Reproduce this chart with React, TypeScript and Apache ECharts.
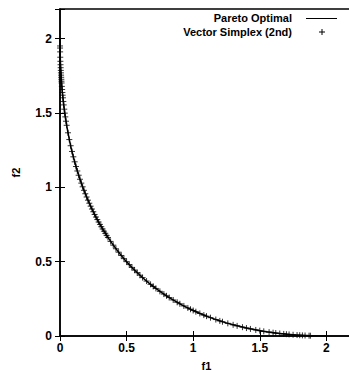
import React, { useEffect, useRef } from "react";
import * as echarts from "echarts";

// Pareto-optimal front (f1, f2)
const paretoF1 = [0, 0.0005, 0.002, 0.005, 0.01, 0.02, 0.04, 0.07, 0.1, 0.15, 0.2, 0.25, 0.3, 0.4, 0.5, 0.6, 0.7, 0.8, 0.9, 1.0, 1.1, 1.2, 1.3, 1.4, 1.5, 1.6, 1.7, 1.8, 1.9, 2.0];
const paretoF2 = [2.0, 1.9373, 1.8755, 1.805, 1.7272, 1.62, 1.4743, 1.3217, 1.2056, 1.0545, 0.9351, 0.8358, 0.7508, 0.6111, 0.5, 0.4091, 0.3336, 0.2702, 0.2167, 0.1716, 0.1335, 0.1016, 0.0751, 0.0534, 0.0359, 0.0223, 0.0122, 0.0053, 0.0013, 0];

// Solutions found by Vector Simplex (2nd)
const simplexF1 = [0.0003, 0.0005, 0.001, 0.002, 0.003, 0.004, 0.005, 0.006, 0.007, 0.008, 0.009, 0.01, 0.011, 0.012, 0.014, 0.016, 0.018, 0.02, 0.022, 0.025, 0.028, 0.032, 0.036, 0.04, 0.045, 0.05, 0.06, 0.07, 0.08, 0.09, 0.1, 0.11, 0.12, 0.13, 0.14, 0.15, 0.16, 0.17, 0.18, 0.19, 0.2, 0.21, 0.22, 0.23, 0.24, 0.25, 0.26, 0.27, 0.28, 0.29, 0.3, 0.31, 0.32, 0.33, 0.34, 0.35, 0.36, 0.38, 0.4, 0.42, 0.44, 0.46, 0.48, 0.5, 0.52, 0.54, 0.56, 0.58, 0.6, 0.62, 0.65, 0.68, 0.7, 0.72, 0.75, 0.78, 0.8, 0.82, 0.85, 0.88, 0.9, 0.93, 0.96, 0.98, 1.0, 1.02, 1.05, 1.08, 1.1, 1.13, 1.17, 1.2, 1.22, 1.26, 1.3, 1.33, 1.37, 1.4, 1.43, 1.47, 1.5, 1.53, 1.57, 1.6, 1.62, 1.65, 1.68, 1.7, 1.72, 1.75, 1.78, 1.8, 1.82, 1.84, 1.87, 1.88];
const simplexF2 = [1.9513, 1.9373, 1.9116, 1.8755, 1.8481, 1.8251, 1.805, 1.7869, 1.7703, 1.755, 1.7407, 1.7272, 1.7143, 1.7022, 1.6793, 1.6582, 1.6385, 1.62, 1.6025, 1.5778, 1.5547, 1.526, 1.4993, 1.4743, 1.445, 1.4175, 1.3672, 1.3217, 1.28, 1.2415, 1.2056, 1.1719, 1.1402, 1.1102, 1.0817, 1.0545, 1.0286, 1.0038, 0.98, 0.9571, 0.9351, 0.9138, 0.8934, 0.8735, 0.8543, 0.8358, 0.8178, 0.8003, 0.7833, 0.7668, 0.7508, 0.7352, 0.72, 0.7052, 0.6907, 0.6767, 0.6629, 0.6364, 0.6111, 0.587, 0.5638, 0.5417, 0.5204, 0.5, 0.4804, 0.4615, 0.4434, 0.4259, 0.4091, 0.3929, 0.3696, 0.3476, 0.3336, 0.32, 0.3005, 0.282, 0.2702, 0.2587, 0.2423, 0.2267, 0.2167, 0.2024, 0.1887, 0.18, 0.1716, 0.1634, 0.1517, 0.1406, 0.1335, 0.1233, 0.1106, 0.1016, 0.0959, 0.0851, 0.0751, 0.0681, 0.0594, 0.0534, 0.0477, 0.0407, 0.0359, 0.0314, 0.026, 0.0223, 0.02, 0.0168, 0.0139, 0.0122, 0.0106, 0.0083, 0.0064, 0.0053, 0.0042, 0.0033, 0.0022, 0.0019];

const xTicks = [0, 0.5, 1, 1.5, 2];
const yTicks = [0, 0.5, 1, 1.5, 2];
const legendNames = ["Pareto Optimal", "Vector Simplex (2nd)"];

const PLUS = "path://M0,5 L10,5 M5,0 L5,10";
const FONT = "'Liberation Sans', Arial, Helvetica, sans-serif";

export default function App() {
  const ref = useRef<HTMLDivElement>(null);

  useEffect(() => {
    // The plot frame runs slightly past the right edge of the window.
    document.documentElement.style.overflow = "hidden";
    document.body.style.margin = "0";
    document.body.style.overflow = "hidden";
    if (!ref.current) return;
    const chart = echarts.init(ref.current, null, { renderer: "svg" });

    const tickLabel = {
      color: "#000",
      fontFamily: FONT,
      fontWeight: "bold" as const,
      fontSize: 12,
    };
    const inTick = { show: true, inside: true, length: 5, lineStyle: { color: "#000", width: 1 } };
    const legendFont = `bold 11px ${FONT}`;
    const stroke = { stroke: "#000", lineWidth: 1 };

    chart.setOption({
      animation: false,
      backgroundColor: "#fff",
      grid: {
        left: 60,
        right: 0,
        top: 9,
        bottom: 34,
        outerBoundsMode: "none",
        show: true,
        borderColor: "#000",
        borderWidth: 1.5,
        backgroundColor: "transparent",
      },
      // Key in the top-right corner: label first, sample to its right
      graphic: [
        {
          type: "text",
          x: 292,
          y: 18,
          style: { text: legendNames[0], font: legendFont, fill: "#000", align: "right", verticalAlign: "middle" },
        },
        { type: "line", shape: { x1: 306, y1: 18.5, x2: 337, y2: 18.5 }, style: stroke },
        {
          type: "text",
          x: 292,
          y: 32,
          style: { text: legendNames[1], font: legendFont, fill: "#000", align: "right", verticalAlign: "middle" },
        },
        { type: "line", shape: { x1: 319, y1: 32, x2: 325, y2: 32 }, style: stroke },
        { type: "line", shape: { x1: 322, y1: 29, x2: 322, y2: 35 }, style: stroke },
      ],
      xAxis: [
        {
          type: "value",
          min: 0,
          max: 2.2,
          interval: 0.5,
          name: "f1",
          nameLocation: "middle",
          nameGap: 24,
          nameTextStyle: { ...tickLabel, fontSize: 11 },
          axisLine: { show: true, lineStyle: { color: "#000", width: 1.5 } },
          axisTick: inTick,
          splitLine: { show: false },
          axisLabel: {
            ...tickLabel,
            margin: 6,
            customValues: xTicks,
            formatter: (v: number) => String(v),
          },
        },
        {
          type: "value",
          position: "top",
          min: 0,
          max: 2.2,
          interval: 0.5,
          axisLine: { show: false },
          axisTick: inTick,
          axisLabel: { show: false },
          splitLine: { show: false },
        },
      ],
      yAxis: [
        {
          type: "value",
          min: 0,
          max: 2.2,
          interval: 0.5,
          name: "f2",
          nameLocation: "middle",
          nameGap: 39,
          nameRotate: 90,
          nameTextStyle: { ...tickLabel, fontSize: 11 },
          axisLine: { show: true, lineStyle: { color: "#000", width: 1.5 } },
          axisTick: inTick,
          splitLine: { show: false },
          axisLabel: {
            ...tickLabel,
            margin: 8,
            customValues: yTicks,
            formatter: (v: number) => String(v),
          },
        },
        {
          type: "value",
          position: "right",
          min: 0,
          max: 2.2,
          interval: 0.5,
          axisLine: { show: false },
          axisTick: inTick,
          axisLabel: { show: false },
          splitLine: { show: false },
        },
      ],
      series: [
        {
          name: legendNames[0],
          type: "line",
          smooth: true,
          symbol: "none",
          lineStyle: { color: "#000", width: 1.5 },
          data: paretoF1.map((x, i) => [x, paretoF2[i]]),
          z: 2,
        },
        {
          name: legendNames[1],
          type: "scatter",
          symbol: PLUS,
          symbolSize: 6,
          itemStyle: { color: "none", borderColor: "#000", borderWidth: 1 },
          data: simplexF1.map((x, i) => [x, simplexF2[i]]),
          z: 3,
        },
      ],
    });

    return () => chart.dispose();
  }, []);

  return <div ref={ref} style={{ width: 353, height: 370 }} />;
}
